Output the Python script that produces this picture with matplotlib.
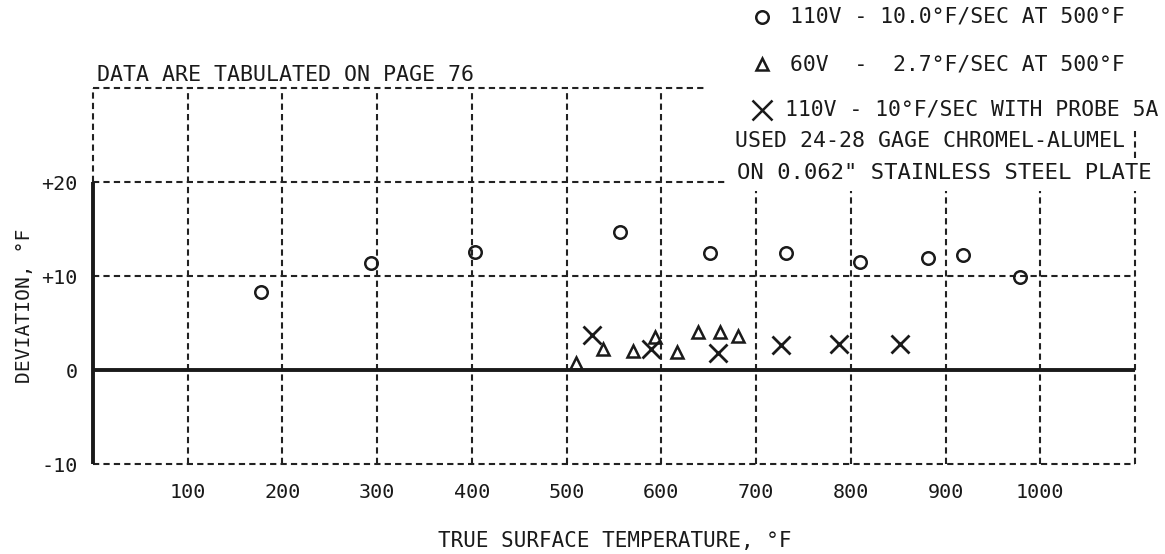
import matplotlib
matplotlib.use('Agg')
import matplotlib.pyplot as plt
from matplotlib.lines import Line2D

# DATA
circ_x = [177, 294, 403, 556, 651, 732, 810, 881, 918, 979]
circ_y = [8.3, 11.4, 12.6, 14.7, 12.4, 12.5, 11.5, 11.9, 12.2, 9.9]

tri_x = [510, 538, 570, 593, 616, 639, 662, 681]
tri_y = [0.7, 2.2, 2.0, 3.5, 1.9, 4.0, 4.0, 3.6]

cross_x = [527, 589, 660, 726, 787, 852]
cross_y = [3.7, 2.2, 1.8, 2.7, 2.8, 2.8]

x_ticks = [100, 200, 300, 400, 500, 600, 700, 800, 900, 1000]
y_ticks = [-10, 0, 10, 20]
y_ticklabels = ['-10', '0', '+10', '+20']

legend_lines = ['110V - 10.0\u00b0F/SEC AT 500\u00b0F',
                '60V  -  2.7\u00b0F/SEC AT 500\u00b0F',
                '110V - 10\u00b0F/SEC WITH PROBE 5A']
note_lines = ['USED 24-28 GAGE CHROMEL-ALUMEL',
              'ON 0.062" STAINLESS STEEL PLATE']

#%% style - lettering guide look: fixed pitch sans
FONT = dict(family='DejaVu Sans Mono')
INK = '#1a1a1a'

W, H = 1165, 554
def fx(px):
    return px / W
def fy(py):
    return 1 - py / H

fig = plt.figure(figsize=(W / 100, H / 100), dpi=100)
ax = fig.add_axes([fx(93), fy(464), (1135 - 93) / W, (464 - 88) / H])
ax.set_xlim(0, 1100)
ax.set_ylim(-10, 30)
for s in ax.spines.values():
    s.set_visible(False)

dash = dict(color='#222222', lw=1.5, linestyle=(0, (3, 2)), clip_on=False)
solid = dict(color=INK, lw=2.8, clip_on=False)

# grid, drawn piecewise like the original sheet
ax.vlines(0, 20, 30, **dash)
ax.vlines([100, 200, 300, 400, 500, 600], -10, 30, **dash)
ax.vlines([700, 800, 900, 1000, 1100], -10, 19, **dash)
ax.vlines(1100, 22.6, 25.4, **dash)
ax.hlines(30, 0, 648, **dash)
ax.hlines(20, 0, 670, **dash)
ax.hlines(10, 0, 1100, **dash)
ax.hlines(-10, 0, 1100, **dash)
ax.hlines(0, 0, 1100, **solid)
ax.vlines(0, -10, 20, **solid)

# data
ax.plot(circ_x, circ_y, 'o', ms=9, mfc='none', mec=INK, mew=1.8)
ax.plot(tri_x, tri_y, '^', ms=8, mfc='none', mec=INK, mew=1.8)
ax.plot(cross_x, cross_y, 'x', ms=13, mec=INK, mew=2.0)

ax.set_xticks(x_ticks)
ax.set_xticklabels([str(v) for v in x_ticks], fontsize=14.5, **FONT)
ax.set_yticks(y_ticks)
ax.set_yticklabels(y_ticklabels, fontsize=14.5, **FONT)
ax.tick_params(length=0, colors=INK)
ax.tick_params(axis='x', pad=14)
ax.tick_params(axis='y', pad=11)

fig.text(fx(615), fy(541), 'TRUE SURFACE TEMPERATURE, \u00b0F', ha='center',
         va='center', fontsize=15, color=INK, **FONT)
fig.text(fx(25), fy(306), 'DEVIATION, \u00b0F', rotation=90, ha='center',
         va='center', fontsize=14.1, color=INK, **FONT)
fig.text(fx(97), fy(75), 'DATA ARE TABULATED ON PAGE 76', ha='left',
         va='center', fontsize=15.6, color=INK, **FONT)

# legend block in the top right corner
leg_y = [17, 64, 110]
leg_x = [790, 790, 785]
leg_mk = ['o', '^', 'x']
leg_ms = [9, 8, 15]
for yy, xx, txt, mk, ms in zip(leg_y, leg_x, legend_lines, leg_mk, leg_ms):
    fig.add_artist(Line2D([fx(762)], [fy(yy)], marker=mk, ms=ms, mfc='none',
                          mec=INK, mew=1.8, transform=fig.transFigure))
    fig.text(fx(xx), fy(yy), txt, ha='left', va='center', fontsize=15.4,
             color=INK, **FONT)
fig.text(fx(735), fy(141), note_lines[0], ha='left', va='center',
         fontsize=15.5, color=INK, **FONT)
fig.text(fx(737), fy(173), note_lines[1], ha='left', va='center',
         fontsize=16, color=INK, **FONT)

fig.savefig('out.png', dpi=100, facecolor='white')
